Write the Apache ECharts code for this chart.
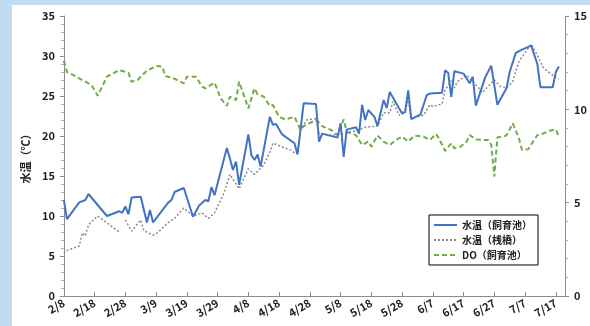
<!DOCTYPE html>
<html>
<head>
<meta charset="utf-8">
<script src="https://cdn.jsdelivr.net/npm/echarts@6/dist/echarts.min.js"></script>
<style>
  html, body { margin: 0; padding: 0; width: 590px; height: 326px; background: #c3dbf0; overflow: hidden; }
  #panel { position: absolute; left: 12px; top: 5px; width: 578px; height: 321px; background: #ffffff; }
</style>
</head>
<body>
<div id="panel"></div>
<script>
// Days counted from 2/8 (2020)
const tickLabels = ['2/8','2/18','2/28','3/9','3/19','3/29','4/8','4/18','4/28','5/8','5/18','5/28','6/7','6/17','6/27','7/7','7/17'];

// 水温（飼育池）
const poolDay  = [0,1,5,7,8,14,18,19,20,21,22,25,27,28,29,34,35,36,39,42,44,46,47,48,49,53,54,55,56,57,60,61,62,63,64,67,68,69,71,75,76,78,82,83,84,89,90,91,92,95,96,97,98,99,101,102,104,105,106,110,111,112,113,116,118,119,123,124,125,126,127,130,132,133,134,137,139,141,144,145,147,149,152,154,155,159,160,161];
const poolTemp = [12.0,9.6,11.7,12.0,12.75,10.0,10.6,10.4,11.2,10.2,12.3,12.4,9.2,10.75,9.2,11.7,12.0,13.0,13.5,9.9,11.3,12.0,11.85,13.6,12.6,18.5,17.2,15.75,16.8,13.9,20.2,17.6,17.0,17.7,16.2,22.4,21.4,21.5,20.2,19.1,17.7,24.1,24.0,19.3,20.3,19.8,21.6,17.4,20.8,21.1,20.3,23.9,22.0,23.25,22.4,21.25,24.5,23.5,25.5,22.8,23.0,25.7,22.1,22.7,25.1,25.3,25.4,28.2,27.9,24.9,28.1,27.8,26.6,27.4,23.8,27.3,28.8,23.9,26.0,28.0,30.4,30.8,31.3,29.0,26.1,26.1,28.0,28.7];

// 水温（桟橋）
const pierDay  = [0,1,5,6,7,8,11,18,19,20,22,25,26,29,30,34,36,39,42,45,47,49,52,54,57,60,62,65,67,68,74,75,76,77,79,82,83,87,91,96,98,101,102,104,106,107,109,111,112,113,117,119,120,123,124,126,127,128,131,133,135,136,140,142,144,146,148,152,154,156,159,161];
const pierTemp = [5.3,5.7,6.25,7.9,7.5,8.9,10.0,8.0,null,9.5,8.1,9.5,8.2,7.6,7.75,9.2,9.7,11.0,10.0,10.4,9.7,10.4,12.8,15.2,13.4,15.9,15.2,16.4,18.0,19.1,18.2,17.9,17.8,20.75,22.0,22.2,20.3,20.1,20.3,20.75,21.1,21.2,21.25,22.9,22.9,24.3,22.6,23.25,24.5,22.2,22.6,23.9,23.7,24.0,25.75,26.9,26.0,26.8,27.6,26.8,26.0,25.4,27.0,26.2,26.0,26.8,29.3,31.5,30.1,28.5,27.6,27.1];

// DO（飼育池）
const doDay   = [0,1,2,6,9,11,14,18,21,22,24,25,27,30,32,33,35,39,40,43,45,46,49,51,53,54,56,57,60,62,63,65,67,68,70,72,75,76,77,78,82,84,87,89,91,92,95,97,99,100,102,104,106,108,110,112,114,117,119,121,122,124,126,127,129,131,132,134,136,138,139,140,141,143,144,146,148,149,151,154,156,158,160,161];
const doValue = [12.6,12.0,11.93,11.57,11.3,10.73,11.75,12.1,11.96,11.48,11.57,11.75,12.07,12.32,12.29,11.78,11.71,11.39,11.75,11.75,11.21,11.12,11.43,10.59,10.18,10.68,10.5,11.48,10.05,11.12,10.8,10.68,10.18,10.23,9.6,9.46,9.6,9.25,8.89,9.1,9.43,9.1,8.89,8.62,9.46,8.8,8.62,8.09,8.27,8.0,8.6,8.27,8.09,8.36,8.54,8.27,8.59,8.54,8.36,8.68,8.45,7.77,8.18,7.91,8.0,8.27,8.62,8.39,8.36,8.36,8.1,6.4,8.5,8.54,8.62,9.25,8.45,7.82,7.86,8.62,8.71,8.85,8.93,8.54];

const pairs = (xs, ys) => xs.map((x, i) => [x, ys[i]]);

const textColor = '#222';
const axisColor = '#8c8c8c';
const labelFont = { fontFamily: '"Noto Sans CJK JP", "Noto Sans", sans-serif', fontWeight: 'bold', fontSize: 11, color: textColor };

const chart = echarts.init(document.getElementById('panel'), null, { renderer: 'canvas' });
chart.setOption({
  animation: false,
  backgroundColor: '#ffffff',
  grid: { left: 48.5, right: 24, top: 11, bottom: 30 },
  legend: {
    orient: 'vertical',
    left: 417, top: 210,
    padding: [5, 6, 5, 4],
    itemGap: 5,
    itemWidth: 23, itemHeight: 12,
    itemStyle: { opacity: 0 },
    borderColor: '#000', borderWidth: 1,
    backgroundColor: '#fff',
    textStyle: { fontFamily: '"Noto Sans CJK JP", sans-serif', fontSize: 10, fontWeight: 'bold', color: textColor },
    data: ['水温（飼育池）', '水温（桟橋）', 'DO（飼育池）']
  },
  xAxis: {
    type: 'value', min: 0, max: 163, interval: 10,
    axisLine: { lineStyle: { color: axisColor, width: 1 } },
    axisTick: { inside: true, length: 4, lineStyle: { color: axisColor } },
    splitLine: { show: false },
    axisLabel: Object.assign({
      rotate: 30, margin: 6, showMaxLabel: false,
      formatter: v => (v % 10 === 0 ? (tickLabels[v / 10] || '') : '')
    }, labelFont)
  },
  yAxis: [{
    type: 'value', min: 0, max: 35, interval: 5,
    name: '水温（℃）', nameLocation: 'middle', nameGap: 28,
    nameTextStyle: { fontFamily: '"Noto Sans CJK JP", sans-serif', fontSize: 11, fontWeight: 'bold', color: textColor },
    axisLine: { show: true, lineStyle: { color: axisColor } },
    axisTick: { show: true, length: 4, lineStyle: { color: axisColor } },
    minorTick: { show: true, splitNumber: 5, length: 3, lineStyle: { color: '#aaa' } },
    splitLine: { show: false },
    axisLabel: Object.assign({ margin: 9 }, labelFont)
  }, {
    type: 'value', min: 0, max: 15, interval: 5, position: 'right',
    axisLine: { show: true, lineStyle: { color: axisColor } },
    axisTick: { show: true, length: 4, lineStyle: { color: axisColor } },
    minorTick: { show: true, splitNumber: 5, length: 3, lineStyle: { color: '#aaa' } },
    splitLine: { show: false },
    axisLabel: Object.assign({ margin: 9 }, labelFont)
  }],
  series: [{
    name: '水温（飼育池）', type: 'line', yAxisIndex: 0, symbol: 'none',
    lineStyle: { color: '#4472c4', width: 2 }, itemStyle: { color: '#4472c4' },
    data: pairs(poolDay, poolTemp), z: 3
  }, {
    name: '水温（桟橋）', type: 'line', yAxisIndex: 0, symbol: 'none', connectNulls: false,
    lineStyle: { color: '#8a8a8a', width: 1.5, type: [2, 2] }, itemStyle: { color: '#8a8a8a' },
    data: pairs(pierDay, pierTemp), z: 2
  }, {
    name: 'DO（飼育池）', type: 'line', yAxisIndex: 1, symbol: 'none',
    lineStyle: { color: '#70ad47', width: 2, type: [5, 3] }, itemStyle: { color: '#70ad47' },
    data: pairs(doDay, doValue), z: 1
  }]
});
</script>
</body>
</html>
